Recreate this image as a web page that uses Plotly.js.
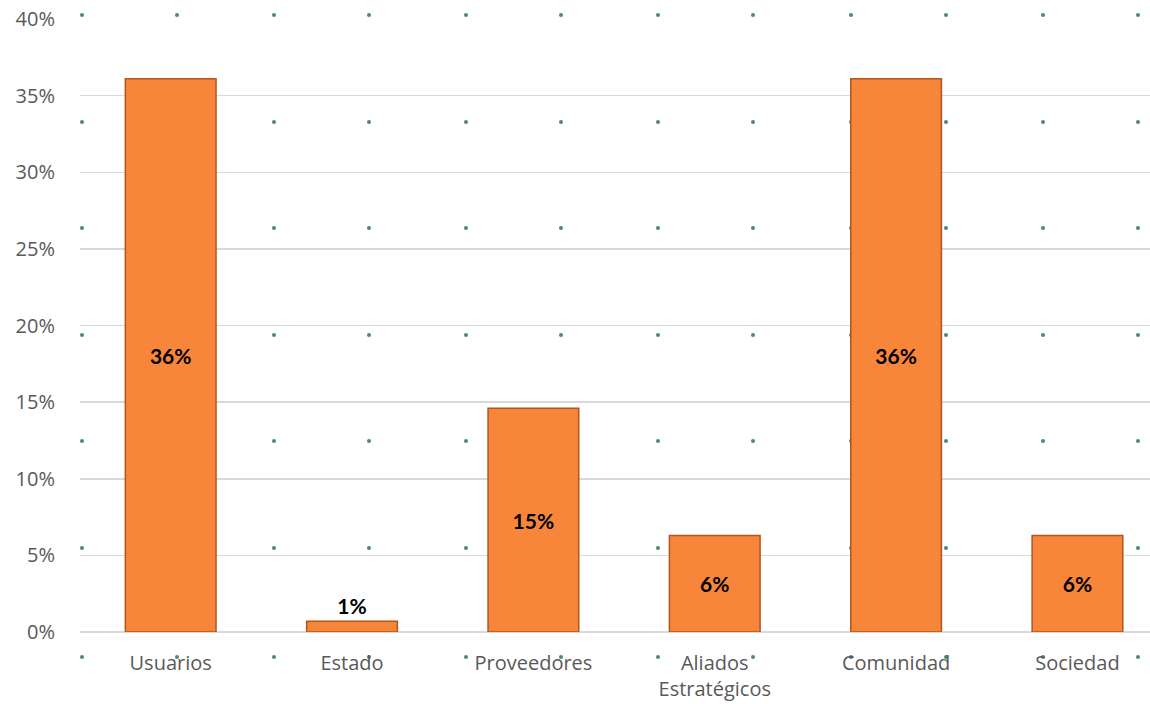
<!DOCTYPE html>
<html>
<head>
<meta charset="utf-8">
<script src="https://cdn.plot.ly/plotly-3.0.1.min.js"></script>
<style>
  html, body { margin: 0; padding: 0; background: #ffffff; }
  #chart { width: 1150px; height: 704px; }
</style>
</head>
<body>
<div id="chart"></div>
<script>
// Data
const categories = ["Usuarios", "Estado", "Proveedores", "Aliados<br>Estratégicos", "Comunidad", "Sociedad"];
const values = [36.1, 0.7, 14.6, 6.3, 36.1, 6.3];
const valueLabels = ["36%", "1%", "15%", "6%", "36%", "6%"];
const yTickVals = [0, 5, 10, 15, 20, 25, 30, 35, 40];
const yTickText = ["0%", "5%", "10%", "15%", "20%", "25%", "30%", "35%", "40%"];

// Decorative background dot pattern (page-pixel units of a full-page background axis)
const dotCols = [82, 177, 274, 369, 466, 561, 658, 753, 851, 946, 1043, 1138];
const dotRows = [15, 122, 228, 335, 441, 548, 657];
const dotX = [];
const dotY = [];
dotRows.forEach(r => dotCols.forEach(c => { dotX.push(c); dotY.push(r); }));

const W = 1150, H = 704;

const dots = {
  type: 'scatter',
  mode: 'markers',
  x: dotX,
  y: dotY,
  xaxis: 'x',
  yaxis: 'y',
  marker: { size: 4, color: '#4E8A6C' },
  hoverinfo: 'skip',
  showlegend: false
};

const labelFont = { family: 'Lato, "Open Sans", sans-serif', size: 21, color: '#000000', weight: 'bold' };

const bars = {
  type: 'bar',
  x: categories,
  y: values,
  xaxis: 'x2',
  yaxis: 'y2',
  width: 0.5,
  text: valueLabels,
  textposition: 'auto',
  insidetextanchor: 'middle',
  cliponaxis: false,
  textfont: labelFont,
  insidetextfont: labelFont,
  outsidetextfont: labelFont,
  constraintext: 'none',
  marker: {
    color: '#F7863A',
    line: { color: '#B0561E', width: 1.5 }
  },
  hoverinfo: 'skip',
  showlegend: false
};

const layout = {
  width: W,
  height: H,
  margin: { l: 0, r: 0, t: 0, b: 0 },
  paper_bgcolor: '#ffffff',
  plot_bgcolor: 'rgba(0,0,0,0)',
  showlegend: false,
  font: { family: '"Open Sans", sans-serif', color: '#595959' },
  xaxis: {
    domain: [0, 1],
    range: [0, W],
    visible: false,
    fixedrange: true
  },
  yaxis: {
    domain: [0, 1],
    range: [H, 0],
    visible: false,
    fixedrange: true
  },
  xaxis2: {
    anchor: 'y2',
    domain: [80 / W, 1],
    type: 'category',
    range: [-0.5, 5.4],
    showgrid: false,
    zeroline: false,
    showline: false,
    ticks: 'outside',
    ticklen: 13,
    tickcolor: 'rgba(0,0,0,0)',
    tickfont: { family: '"Open Sans", sans-serif', size: 20, color: '#595959' }
  },
  yaxis2: {
    anchor: 'x2',
    domain: [(H - 632) / H, (H - 19) / H],
    range: [0, 40],
    tickvals: yTickVals,
    ticktext: yTickText,
    showgrid: true,
    gridcolor: '#D9D9D9',
    gridwidth: 1.5,
    zeroline: true,
    zerolinecolor: '#D9D9D9',
    zerolinewidth: 1.5,
    showline: false,
    ticks: 'outside',
    ticklen: 20,
    tickcolor: 'rgba(0,0,0,0)',
    tickfont: { family: '"Open Sans", sans-serif', size: 20, color: '#595959' }
  }
};

Plotly.newPlot('chart', [dots, bars], layout, { staticPlot: true, displayModeBar: false });
</script>
</body>
</html>
